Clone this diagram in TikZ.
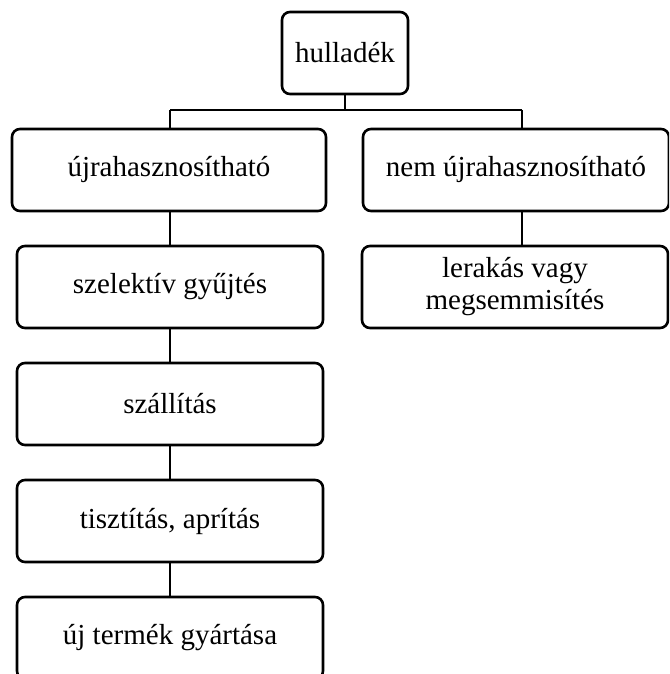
\documentclass[tikz,border=0pt]{standalone}
\usepackage{fontspec}
\setmainfont{Liberation Serif}
\usetikzlibrary{positioning}

\begin{document}
\begin{tikzpicture}[x=0.5pt, y=-0.5pt,
  box/.style={draw, line width=1.3pt, rounded corners=4pt, align=center,
    inner sep=0pt, font=\fontsize{14.5}{16}\selectfont},
  wide/.style={box, minimum width=157pt, minimum height=41pt},
  narrow/.style={box, minimum width=153pt, minimum height=41pt},
  link/.style={line width=1.3pt}
]
  \useasboundingbox (0,0) rectangle (669,674);
  \clip (0,0) rectangle (669,674);

  % gyoker
  \node[box, minimum width=63pt, minimum height=41pt] (hulladek) at (345,53) {hulladék};

  % ket ag
  \node[wide] (ujra) at (169,170) {újrahasznosítható};
  \node[narrow] (nemujra) at (516,170) {nem újrahasznosítható};

  % bal oszlop
  \node[narrow] (szelektiv) at (170,287) {szelektív gyűjtés};
  \node[narrow] (szallitas) at (170,404) {szállítás};
  \node[narrow] (tisztitas) at (170,521) {tisztítás, aprítás};
  \node[narrow] (ujtermek) at (170,638) {új termék gyártása};

  % jobb oszlop
  \node[narrow] (lerakas) at (515,287) {lerakás vagy\\megsemmisítés};

  % elagazas
  \coordinate (elag) at (345,110);
  \coordinate (balag) at (170,110);
  \coordinate (jobbag) at (522,110);
  \draw[link] (hulladek.south) -- (elag);
  \draw[link] (balag) -- (jobbag);
  \draw[link] (balag) -- (balag |- ujra.north);
  \draw[link] (jobbag) -- (jobbag |- nemujra.north);

  % osszekotesek
  \draw[link] (ujra.south -| balag) -- (szelektiv.north -| balag);
  \draw[link] (szelektiv) -- (szallitas);
  \draw[link] (szallitas) -- (tisztitas);
  \draw[link] (tisztitas) -- (ujtermek);
  \draw[link] (nemujra.south -| jobbag) -- (lerakas.north -| jobbag);
\end{tikzpicture}
\end{document}
